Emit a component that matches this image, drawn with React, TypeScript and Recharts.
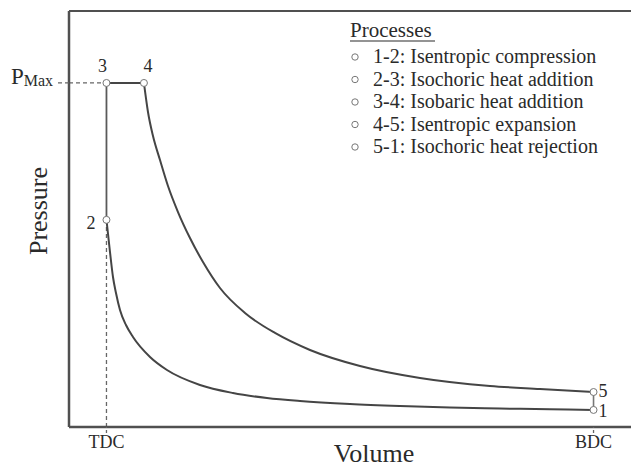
import React from 'react';
import { ComposedChart, Line, XAxis, YAxis, ReferenceLine, LabelList, Label } from 'recharts';

const FONT = '"Liberation Serif", "DejaVu Serif", serif';

// Volume (TDC = 1, BDC = 14) and pressure (0-100, arbitrary units)
const compressionV = [1, 1.094, 1.174, 1.254, 1.361, 1.521, 1.708, 2.162, 2.615, 3.496, 4.377, 5.284, 6.165, 7.499, 8.834, 10.168, 11.503, 12.837, 14];
const compressionP = [49.8, 42.07, 36.06, 32.21, 28.13, 24.52, 21.63, 16.83, 13.7, 10.1, 8.17, 6.97, 6.25, 5.53, 5.05, 4.69, 4.45, 4.25, 4.1];
const expansionV = [2, 2.108, 2.242, 2.429, 2.642, 2.909, 3.229, 3.576, 4.03, 4.697, 5.498, 6.432, 7.766, 9.367, 11.236, 12.57, 14];
const expansionP = [82.7, 75.72, 69.95, 64.18, 57.93, 51.68, 45.43, 39.66, 33.41, 27.4, 22.6, 18.51, 14.66, 11.78, 9.86, 9.13, 8.41];

const stateLabels = ['1', '2', '3', '4', '5'];
const stateV = [14, 1, 1, 2, 14];
const stateP = [4.1, 49.8, 82.7, 82.7, 8.41];

const P_MAX = 82.7;
const V_TDC = 1;
const V_BDC = 14;
const xTickValues = [V_TDC, V_BDC];
const xTickLabels = ['TDC', 'BDC'];

const legendTitle = 'Processes';
const processes = [
  '1-2: Isentropic compression',
  '2-3: Isochoric heat addition',
  '3-4: Isobaric heat addition',
  '4-5: Isentropic expansion',
  '5-1: Isochoric heat rejection',
];

const zip = (vs: number[], ps: number[]) => vs.map((v, i) => ({ v, p: ps[i] }));

const compression = zip(compressionV, compressionP);
const expansion = zip(expansionV, expansionP);
const states = stateLabels.map((name, i) => ({ name, v: stateV[i], p: stateP[i] }));
const heat23 = [states[1], states[2]];
const heat34 = [states[2], states[3]];
const reject51 = [states[4], states[0]];

const LINE = '#454545';
const AXIS = '#505050';
const TEXT = '#2a2a2a';

const labelOffsets: Record<string, { dx: number; dy: number; anchor: string }> = {
  '1': { dx: 5, dy: 7, anchor: 'start' },
  '2': { dx: -11, dy: 9, anchor: 'end' },
  '3': { dx: -4, dy: -11, anchor: 'middle' },
  '4': { dx: 4, dy: -11, anchor: 'middle' },
  '5': { dx: 5, dy: 5, anchor: 'start' },
};

const StateLabel = (props: any) => {
  const { x, y, value } = props;
  const o = labelOffsets[String(value)];
  if (!o) return null;
  return (
    <text x={x + o.dx} y={y + o.dy} textAnchor={o.anchor as any} fontFamily={FONT} fontSize={18} fill={TEXT}>
      {value}
    </text>
  );
};

const PTick = (props: any) => {
  const { x, y } = props;
  return (
    <text x={x} y={y} textAnchor="end" fontFamily={FONT} fill={TEXT}>
      <tspan fontSize={23} dy={1}>P</tspan>
      <tspan fontSize={16} dy={2}>Max</tspan>
    </text>
  );
};

const XTick = (props: any) => {
  const { x, y, payload } = props;
  const idx = xTickValues.indexOf(payload.value);
  return (
    <text x={x} y={y + 13} textAnchor="middle" fontFamily={FONT} fontSize={18} fill={TEXT}>
      {xTickLabels[idx]}
    </text>
  );
};

export default function App() {
  return (
    <div style={{ position: 'absolute', left: 0, top: 0, width: 631, height: 469, background: '#fff' }}>
      <ComposedChart width={631} height={469} margin={{ top: 11, right: 0, bottom: 0, left: 0 }}>
        <XAxis
          type="number"
          dataKey="v"
          domain={[0, 15]}
          allowDataOverflow
          ticks={xTickValues}
          interval={0}
          height={42}
          axisLine={{ stroke: AXIS, strokeWidth: 2.5 }}
          tickLine={{ stroke: '#666', strokeDasharray: '3 2', strokeWidth: 1.3 }}
          tickSize={6}
          tickMargin={2}
          tick={<XTick />}
        >
          <Label
            content={(p: any) => {
              const vb = p.viewBox || { x: 69, y: 427 };
              return (
                <text x={vb.x + 305} y={vb.y + 35} textAnchor="middle" fontFamily={FONT} fontSize={26} fill={TEXT}>
                  Volume
                </text>
              );
            }}
          />
        </XAxis>
        <YAxis
          type="number"
          dataKey="p"
          domain={[0, 100]}
          allowDataOverflow
          ticks={[P_MAX]}
          interval={0}
          width={69}
          axisLine={{ stroke: AXIS, strokeWidth: 2.5 }}
          tickLine={{ stroke: '#666', strokeDasharray: '4 3', strokeWidth: 1.3 }}
          tickSize={11}
          tickMargin={5}
          tick={<PTick />}
        >
          <Label
            content={(p: any) => {
              const vb = p.viewBox || { x: 0, y: 11, height: 416 };
              const cx = vb.x + 47;
              const cy = vb.y + 200;
              return (
                <text
                  x={cx}
                  y={cy}
                  textAnchor="middle"
                  transform={`rotate(-90, ${cx}, ${cy})`}
                  fontFamily={FONT}
                  fontSize={26}
                  fill={TEXT}
                >
                  Pressure
                </text>
              );
            }}
          />
        </YAxis>

        <ReferenceLine y={100} stroke={AXIS} strokeWidth={2} ifOverflow="extendDomain" />
        <ReferenceLine
          segment={[{ x: 0, y: P_MAX }, { x: V_TDC, y: P_MAX }]}
          stroke="#666"
          strokeDasharray="4 3"
          strokeWidth={1.3}
        />
        <ReferenceLine
          segment={[{ x: V_TDC, y: 0 }, { x: V_TDC, y: stateP[1] }]}
          stroke="#666"
          strokeDasharray="4 3"
          strokeWidth={1.3}
        />

        <Line data={compression} dataKey="p" type="monotone" stroke={LINE} strokeWidth={2} dot={false} isAnimationActive={false} />
        <Line data={expansion} dataKey="p" type="monotone" stroke={LINE} strokeWidth={2} dot={false} isAnimationActive={false} />
        <Line data={heat23} dataKey="p" type="linear" stroke="#5a5a5a" strokeWidth={1.8} dot={false} isAnimationActive={false} />
        <Line data={heat34} dataKey="p" type="linear" stroke={LINE} strokeWidth={2} dot={false} isAnimationActive={false} />
        <Line data={reject51} dataKey="p" type="linear" stroke="#777" strokeWidth={1.6} dot={false} isAnimationActive={false} />
        <Line
          data={states}
          dataKey="p"
          stroke="none"
          isAnimationActive={false}
          dot={{ r: 3.5, fill: '#fff', stroke: '#777', strokeWidth: 1 }}
        >
          <LabelList dataKey="name" content={<StateLabel />} />
        </Line>
      </ComposedChart>

      <svg
        width={290}
        height={170}
        style={{ position: 'absolute', left: 340, top: 0, pointerEvents: 'none' }}
      >
        <text x={10} y={37} fontFamily={FONT} fontSize={21} fill={TEXT}>
          {legendTitle}
        </text>
        <line x1={10} x2={95} y1={41} y2={41} stroke={TEXT} strokeWidth={1.2} />
        {processes.map((t, i) => (
          <g key={t}>
            <circle cx={15} cy={57 + i * 22.5} r={3.2} fill="#fff" stroke="#777" strokeWidth={1} />
            <text x={33} y={63 + i * 22.5} fontFamily={FONT} fontSize={20} fill={TEXT}>
              {t}
            </text>
          </g>
        ))}
      </svg>
    </div>
  );
}
